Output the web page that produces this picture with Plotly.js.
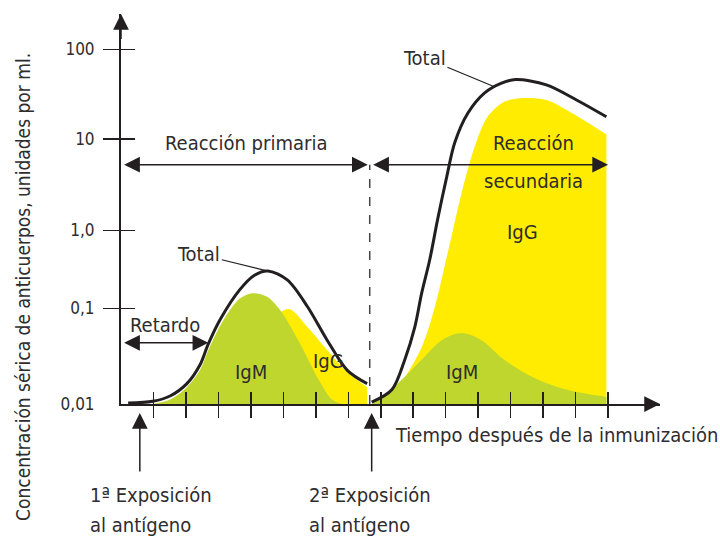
<!DOCTYPE html>
<html>
<head>
<meta charset="utf-8">
<script src="https://cdn.plot.ly/plotly-3.0.1.min.js"></script>
<style>
  body { margin: 0; background: #fff; }
  #chart { width: 720px; height: 539px; }
</style>
</head>
<body>
<div id="chart"></div>
<script>
// values are in "decades above 0,01" (0 = 0,01 ... 4 = 100), time in tick units
var primaryTime = [0.22, 0.98, 1.51, 2.03, 2.43, 2.68, 3.05, 3.66, 4.1, 4.52, 5.12, 5.74, 6.35, 6.97, 7.58];
var primaryTotal = [0.01, 0.03, 0.09, 0.23, 0.44, 0.67, 0.95, 1.29, 1.45, 1.50, 1.40, 1.10, 0.72, 0.38, 0.23];

var primaryIgMTime = [1.0, 1.51, 2.03, 2.43, 2.68, 3.05, 3.3, 3.66, 4.05, 4.5, 4.9, 5.5, 6.05, 6.5, 6.8];
var primaryIgM = [0, 0.05, 0.19, 0.38, 0.6, 0.88, 1.03, 1.19, 1.25, 1.21, 1.06, 0.69, 0.3, 0.05, 0];

var primaryIgGTime = [3.0, 3.7, 4.3, 4.9, 5.2, 5.74, 6.35, 6.97, 7.58];
var primaryIgG = [0, 0.3, 0.7, 1.03, 1.07, 0.87, 0.61, 0.36, 0.19];

var secondaryTime = [7.72, 8.34, 8.74, 9.05, 9.26, 9.51, 9.75, 10.03, 10.28, 10.68, 11.2, 11.72, 12.15, 13.1, 14.03, 14.95];
var secondaryTotal = [0.02, 0.16, 0.50, 0.87, 1.25, 1.63, 2.08, 2.56, 2.95, 3.28, 3.51, 3.62, 3.66, 3.6, 3.43, 3.24];

var secondaryIgGTime = [7.75, 8.3, 8.74, 9.26, 9.66, 10.06, 10.49, 10.89, 11.29, 11.8, 12.3, 13.1, 13.9, 14.95];
var secondaryIgG = [0, 0.1, 0.30, 0.64, 1.09, 1.70, 2.38, 2.9, 3.24, 3.41, 3.45, 3.43, 3.28, 3.04];

var secondaryIgMTime = [7.75, 8.4, 9.26, 9.88, 10.49, 11.1, 11.8, 12.7, 13.74, 14.95];
var secondaryIgM = [0.01, 0.19, 0.5, 0.72, 0.8, 0.72, 0.5, 0.3, 0.16, 0.08];

var yTickVals = [0, 1.08, 1.96, 2.99, 4.0];
var yTickText = ["0,01", "0,1", "1,0", "10", "100"];
var xTickVals = [1, 2, 3, 4, 5, 6, 7, 8, 9, 10, 11, 12, 13, 14, 15];

var exposures = [0.58, 7.72];
var secondExposureLine = 7.66;

var YELLOW = "#ffec00";
var GREEN = "#bfd62f";
var INK = "#231f20";
var TEXT = "#2e2c2d";
var FONT = "DejaVu Sans Condensed, sans-serif";

var area = function(x, y, color) {
  return {
    x: x, y: y, type: 'scatter', mode: 'lines',
    line: { width: 0, shape: 'spline', smoothing: 0.9, color: color },
    fill: 'tozeroy', fillcolor: color,
    hoverinfo: 'skip', showlegend: false
  };
};

var curve = function(x, y) {
  return {
    x: x, y: y, type: 'scatter', mode: 'lines',
    line: { width: 3, shape: 'spline', smoothing: 0.9, color: INK },
    hoverinfo: 'skip', showlegend: false
  };
};

var dummy = function(xa, ya) {
  return { x: [], y: [], xaxis: xa, yaxis: ya, type: 'scatter', showlegend: false };
};

var data = [
  area(primaryIgGTime, primaryIgG, YELLOW),
  area(primaryIgMTime, primaryIgM, GREEN),
  area(secondaryIgGTime, secondaryIgG, YELLOW),
  area(secondaryIgMTime, secondaryIgM, GREEN),
  curve(primaryTime, primaryTotal),
  curve(secondaryTime, secondaryTotal),
  dummy('x2', 'y2'),
  dummy('x2', 'y3')
];

var label = function(text, x, y, opts) {
  var a = {
    text: text, x: x, y: y, xref: 'x', yref: 'y', showarrow: false,
    xanchor: 'center', yanchor: 'middle',
    font: { family: FONT, size: 20, color: TEXT }
  };
  for (var k in opts) { if (opts.hasOwnProperty(k)) a[k] = opts[k]; }
  return a;
};

var arrow = function(x0, y0, x1, y1, both) {
  return {
    x: x1, y: y1, ax: x0, ay: y0, xref: 'x', yref: 'y', axref: 'x', ayref: 'y',
    text: '', showarrow: true, arrowhead: 2, arrowsize: 2.1, arrowwidth: 1.5,
    arrowcolor: INK, arrowside: both ? 'end+start' : 'end', standoff: 0, startstandoff: 0
  };
};

// arrows that point up at the time axis from below the plot
var exposureArrow = function(x) {
  return {
    x: x, y: -0.023, xref: 'x', yref: 'paper', axref: 'pixel', ayref: 'pixel', ax: 0, ay: 60,
    text: '', showarrow: true, arrowhead: 2, arrowsize: 2.1, arrowwidth: 1.5,
    arrowcolor: INK, standoff: 0
  };
};

var annotations = [
  arrow(0, 4.1, 0, 4.4),
  arrow(16.1, 0, 16.6, 0),
  arrow(0.05, 2.70, 7.6, 2.70, true),
  arrow(7.72, 2.70, 15.0, 2.70, true),
  arrow(0.05, 0.69, 2.69, 0.69, true),
  exposureArrow(exposures[0]),
  exposureArrow(exposures[1]),

  label("Reacción primaria", 3.85, 2.95),
  label("Reacción", 12.7, 2.94),
  label("secundaria", 12.7, 2.52),
  label("Retardo", 1.37, 0.89),
  label("IgM", 3.99, 0.36),
  label("IgG", 6.38, 0.48),
  label("IgG", 12.38, 1.94),
  label("IgM", 10.5, 0.36),
  label("Tiempo después de la inmunización", 8.37, -0.0795, { xanchor: 'left', yref: 'paper' }),
  label("1ª Exposición", -0.0612, -0.233, { xanchor: 'left', xref: 'paper', yref: 'paper' }),
  label("al antígeno", -0.0612, -0.310, { xanchor: 'left', xref: 'paper', yref: 'paper' }),
  label("2ª Exposición", 0.345, -0.233, { xanchor: 'left', xref: 'paper', yref: 'paper' }),
  label("al antígeno", 0.345, -0.310, { xanchor: 'left', xref: 'paper', yref: 'paper' }),
  {
    text: "Total", x: 4.52, y: 1.50, xref: 'x', yref: 'y', showarrow: true,
    arrowhead: 0, arrowwidth: 1.2, arrowcolor: INK, ax: -69, ay: -17, standoff: 0,
    font: { family: FONT, size: 20, color: TEXT }
  },
  {
    text: "Total", x: 11.5, y: 3.58, xref: 'x', yref: 'y', showarrow: true,
    arrowhead: 0, arrowwidth: 1.2, arrowcolor: INK, ax: -70, ay: -29, standoff: 0,
    font: { family: FONT, size: 20, color: TEXT }
  },
  {
    text: "Concentración sérica de anticuerpos, unidades por ml.",
    xref: 'paper', yref: 'paper', x: -0.182, y: 0.905, xanchor: 'center', yanchor: 'top',
    textangle: -90, showarrow: false,
    font: { family: FONT, size: 19, color: TEXT }
  }
];

var shapes = [
  {
    type: 'line', xref: 'x', yref: 'y',
    x0: secondExposureLine, x1: secondExposureLine, y0: 0, y1: 2.70,
    line: { color: '#444', width: 1.5, dash: 'dash' }
  }
];

var layout = {
  width: 720, height: 539,
  margin: { l: 121, r: 60, t: 14, b: 135 },
  paper_bgcolor: '#fff', plot_bgcolor: '#fff',
  showlegend: false,
  xaxis: {
    range: [0, 16.6], showgrid: false, zeroline: false,
    showline: true, linecolor: INK, linewidth: 2,
    tickmode: 'array', tickvals: xTickVals, ticks: 'outside', ticklen: 12,
    tickwidth: 1.5, tickcolor: INK, showticklabels: false
  },
  xaxis2: {
    range: [0, 16.6], overlaying: 'x', anchor: 'y', showgrid: false, zeroline: false,
    showline: false, tickmode: 'array', tickvals: xTickVals, ticks: 'inside', ticklen: 12,
    tickwidth: 1.5, tickcolor: INK, showticklabels: false
  },
  yaxis: {
    range: [0, 4.4], showgrid: false, zeroline: false,
    showline: true, linecolor: INK, linewidth: 2,
    tickmode: 'array', tickvals: yTickVals, ticktext: yTickText, ticks: '',
    ticklabelstandoff: 21,
    tickfont: { family: FONT, size: 17, color: TEXT }
  },
  yaxis2: {
    range: [0, 4.4], overlaying: 'y', anchor: 'x', side: 'left', showgrid: false, zeroline: false,
    showline: false, tickmode: 'array', tickvals: yTickVals.slice(1), ticks: 'outside', ticklen: 17,
    tickwidth: 1.5, tickcolor: INK, showticklabels: false
  },
  yaxis3: {
    range: [0, 4.4], overlaying: 'y', anchor: 'x', side: 'left', showgrid: false, zeroline: false,
    showline: false, tickmode: 'array', tickvals: yTickVals.slice(1), ticks: 'inside', ticklen: 14,
    tickwidth: 1.5, tickcolor: INK, showticklabels: false
  },
  annotations: annotations,
  shapes: shapes
};

Plotly.newPlot('chart', data, layout, { displayModeBar: false, staticPlot: true });
</script>
</body>
</html>
